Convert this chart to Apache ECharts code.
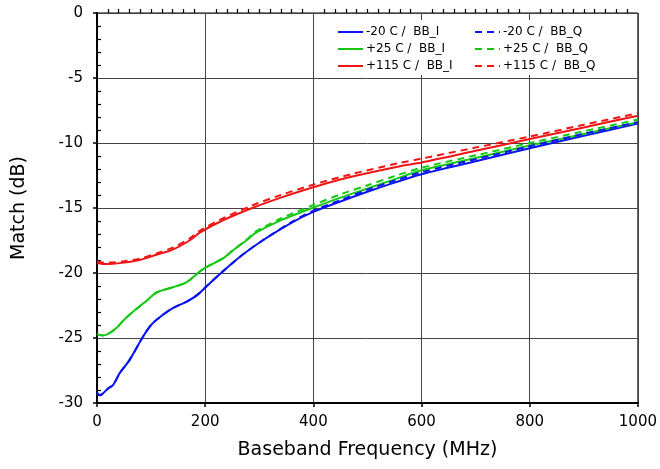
<!DOCTYPE html>
<html>
<head>
<meta charset="utf-8">
<script src="https://cdn.jsdelivr.net/npm/echarts@6/dist/echarts.min.js"></script>
<style>html,body{margin:0;padding:0;background:#fff;}#c{width:660px;height:469px;}</style>
</head>
<body>
<div id="c"></div>
<script>
// Frequencies (MHz) and match values (dB)
const blueIFreq = [0,5,10,20,30,42,60,85,100,116,140,166,185,203,232,269,306,361,400,450,500,550,600,700,800,900,1000];
const blueIVal  = [-29.2,-29.4,-29.3,-28.9,-28.6,-27.7,-26.7,-24.9,-24.0,-23.4,-22.7,-22.2,-21.7,-21.0,-19.9,-18.6,-17.5,-16.1,-15.3,-14.5,-13.75,-13.05,-12.4,-11.4,-10.4,-9.45,-8.5];
const blueQFreq = [0,5,10,20,30,42,60,85,100,116,140,166,185,203,232,269,306,361,400,450,500,550,600,700,800,900,1000];
const blueQVal  = [-29.2,-29.4,-29.3,-28.9,-28.6,-27.7,-26.7,-24.9,-24.0,-23.4,-22.7,-22.2,-21.7,-21.0,-19.9,-18.6,-17.5,-16.05,-15.2,-14.4,-13.6,-12.9,-12.25,-11.25,-10.25,-9.3,-8.4];
const greenIFreq = [0,10,20,37,50,66,90,110,140,166,196,232,250,276,294,343,398,450,500,550,600,700,800,900,1000];
const greenIVal  = [-24.7,-24.8,-24.7,-24.2,-23.6,-23.0,-22.2,-21.5,-21.1,-20.7,-19.7,-18.9,-18.3,-17.5,-16.9,-15.9,-15.0,-14.2,-13.5,-12.8,-12.1,-11.15,-10.2,-9.3,-8.4];
const greenQFreq = [0,10,20,37,50,66,90,110,140,166,196,232,250,276,294,343,398,450,500,550,600,700,800,900,1000];
const greenQVal  = [-24.7,-24.8,-24.7,-24.2,-23.6,-23.0,-22.2,-21.5,-21.1,-20.7,-19.7,-18.9,-18.3,-17.45,-16.8,-15.75,-14.8,-13.95,-13.25,-12.55,-11.9,-10.95,-10.0,-9.1,-8.2];
const redIFreq = [0,10,24,50,79,110,140,171,190,230,287,340,400,470,558,600,700,800,900,1000];
const redIVal  = [-19.2,-19.3,-19.3,-19.2,-19.0,-18.6,-18.2,-17.5,-16.9,-16.0,-15.0,-14.2,-13.4,-12.6,-11.8,-11.5,-10.6,-9.7,-8.8,-7.9];
const redQFreq = [0,10,24,50,79,110,140,171,190,230,287,340,400,470,558,600,700,800,900,1000];
const redQVal  = [-19.1,-19.2,-19.2,-19.1,-18.9,-18.5,-18.05,-17.35,-16.75,-15.85,-14.8,-14.0,-13.2,-12.4,-11.55,-11.2,-10.35,-9.5,-8.6,-7.7];

const seriesNames = ['-20 C /  BB_I','+25 C /  BB_I','+115 C /  BB_I','-20 C /  BB_Q','+25 C /  BB_Q','+115 C /  BB_Q'];
const xTicks = [0,200,400,600,800,1000];
const yTicks = [-30,-25,-20,-15,-10,-5,0];

const BLUE = '#0a14f0', GREEN = '#14c814', RED = '#f01414';
const pair = (f, v) => f.map((x, i) => [x, v[i]]);

function line(name, f, v, color, dashed) {
  return {
    name, type: 'line', data: pair(f, v), showSymbol: false, symbol: 'none',
    smooth: 0.3, xAxisIndex: 0, yAxisIndex: 0,
    lineStyle: { color, width: 2, type: dashed ? [7, 5] : 'solid' },
    itemStyle: { color }, z: dashed ? 3 : 2
  };
}

const FONT = 'DejaVu Sans';
const legendCommon = {
  orient: 'vertical', top: 20, itemWidth: 25, itemHeight: 14, itemGap: 5, backgroundColor: '#fff',
  itemStyle: { opacity: 0, borderWidth: 0 },
  textStyle: { fontFamily: FONT, fontSize: 12, color: '#000', padding: [0, 0, 0, -2] }
};
const chart = echarts.init(document.getElementById('c'), null, { renderer: 'canvas' });
chart.setOption({
  animation: false,
  backgroundColor: '#fff',
  grid: { left: 97, right: 20, top: 13, bottom: 66, show: true, borderColor: '#000', borderWidth: 1 },
  legend: [
    Object.assign({ data: seriesNames.slice(0, 3), left: 333, padding: [6, 30, 3, 4] }, legendCommon),
    Object.assign({ data: seriesNames.slice(3), left: 470, padding: [6, 30, 3, 4] }, legendCommon)
  ],
  xAxis: [
    { type: 'value', min: xTicks[0], max: xTicks[xTicks.length - 1], interval: 200,
      name: 'Baseband Frequency (MHz)', nameLocation: 'middle', nameGap: 38,
      nameTextStyle: { fontFamily: FONT, fontSize: 19, color: '#000' },
      axisLine: { show: true, onZero: false, lineStyle: { color: '#000', width: 2 } },
      axisTick: { show: true, inside: false, length: 4, lineStyle: { color: '#000', width: 1.5 } },
      axisLabel: { margin: 12, fontFamily: FONT, fontSize: 15, color: '#000', formatter: v => String(v) },
      splitLine: { show: true, lineStyle: { color: '#444', width: 1 } } },
    { type: 'value', min: xTicks[0], max: xTicks[xTicks.length - 1], interval: 200, position: 'bottom',
      axisLine: { show: false }, axisLabel: { show: false },
      axisTick: { show: false, inside: true }, splitLine: { show: false },
      minorTick: { show: true, splitNumber: 10, length: 4, lineStyle: { color: '#000', width: 1.2 } } }
  ],
  yAxis: [
    { type: 'value', min: yTicks[0], max: yTicks[yTicks.length - 1], interval: 5,
      name: 'Match (dB)', nameLocation: 'middle', nameGap: 68,
      nameTextStyle: { fontFamily: FONT, fontSize: 19, color: '#000' },
      axisLine: { show: true, onZero: false, lineStyle: { color: '#000', width: 2 } },
      axisTick: { show: true, inside: false, length: 4, lineStyle: { color: '#000', width: 1.5 } },
      axisLabel: { margin: 14, fontFamily: FONT, fontSize: 15, color: '#000' },
      splitLine: { show: true, lineStyle: { color: '#444', width: 1 } } },
    { type: 'value', min: yTicks[0], max: yTicks[yTicks.length - 1], interval: 5, position: 'left',
      axisLine: { show: false }, axisLabel: { show: false },
      axisTick: { show: false, inside: true }, splitLine: { show: false },
      minorTick: { show: true, splitNumber: 5, length: 4, lineStyle: { color: '#000', width: 1.2 } } }
  ],
  series: [
    line(seriesNames[0], blueIFreq, blueIVal, BLUE, false),
    line(seriesNames[1], greenIFreq, greenIVal, GREEN, false),
    line(seriesNames[2], redIFreq, redIVal, RED, false),
    line(seriesNames[3], blueQFreq, blueQVal, BLUE, true),
    line(seriesNames[4], greenQFreq, greenQVal, GREEN, true),
    line(seriesNames[5], redQFreq, redQVal, RED, true)
  ]
});
</script>
</body>
</html>
